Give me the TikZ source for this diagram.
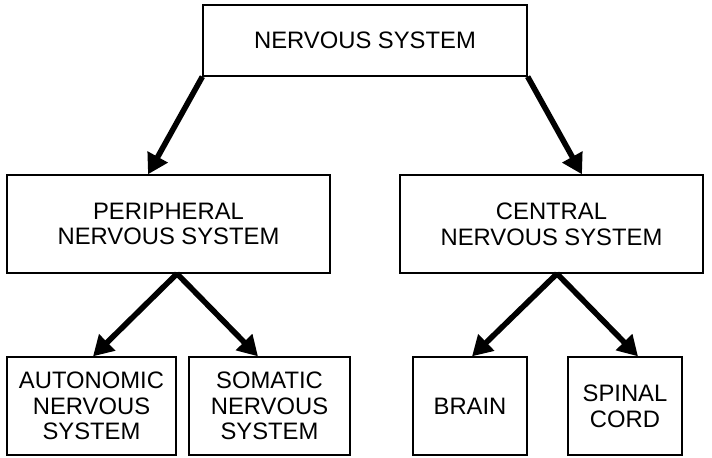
\documentclass[tikz,border=0pt]{standalone}
\usepackage{fontspec}
\setmainfont{Liberation Sans}
\usetikzlibrary{arrows.meta, calc}

\begin{document}
\begin{tikzpicture}[
    x=.5pt, y=-.5pt,
    box/.style={
        draw, rectangle, line width=.65pt, align=center, inner sep=0pt,
        font=\fontsize{11.9}{12.8}\selectfont
    },
    arr/.style={
        line width=2.8pt, -{Triangle[length=10pt,width=11pt]}
    }
]
    \useasboundingbox (0,0) rectangle (712,457);

    \node[box, minimum width=162pt, minimum height=35.5pt] (ns) at (365,40.5) {NERVOUS SYSTEM};
    \node[box, minimum width=161.5pt, minimum height=49pt] (pns) at (168.5,224) {PERIPHERAL\\NERVOUS SYSTEM};
    \node[box, minimum width=151.5pt, minimum height=49pt] (cns) at (551.5,224) {CENTRAL\\NERVOUS SYSTEM};
    \node[box, minimum width=84.5pt, minimum height=49pt] (ans) at (91.5,406) {AUTONOMIC\\NERVOUS\\SYSTEM};
    \node[box, minimum width=80.5pt, minimum height=49pt] (sns) at (269.5,406) {SOMATIC\\NERVOUS\\SYSTEM};
    \node[box, minimum width=57pt, minimum height=49pt] (brain) at (470,406) {BRAIN};
    \node[box, minimum width=57pt, minimum height=49pt] (cord) at (625,406) {SPINAL\\CORD};

    \draw[arr] (ns.south west) -- ($(pns.north)+(-20.5,0)$);
    \draw[arr] (ns.south east) -- ($(cns.north)+(30.5,0)$);

    \draw[arr] ($(pns.south)+(8.5,0)$) -- ($(ans.north)+(1.5,0)$);
    \draw[arr] ($(pns.south)+(8.5,0)$) -- ($(sns.north)+(-11.5,0)$);
    \draw[arr] ($(cns.south)+(5.5,0)$) -- ($(brain.north)+(2,0)$);
    \draw[arr] ($(cns.south)+(5.5,0)$) -- ($(cord.north)+(13,0)$);

\end{tikzpicture}
\end{document}
